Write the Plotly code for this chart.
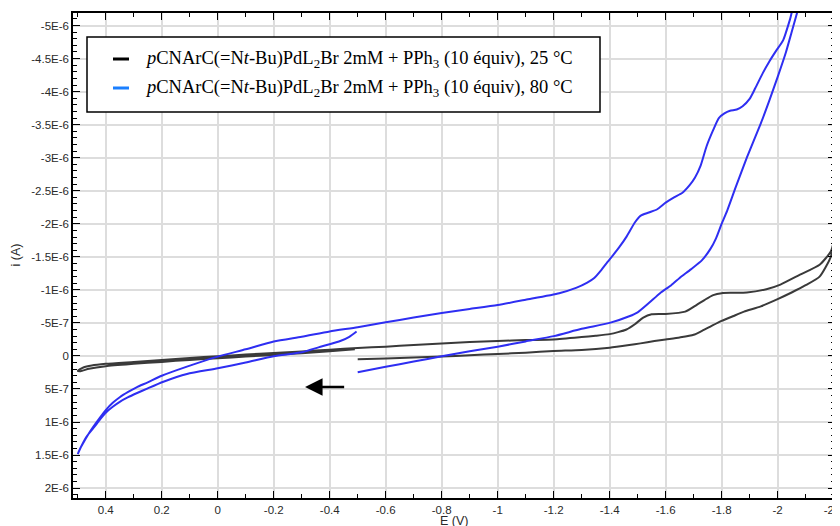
import plotly.graph_objects as go

# ---------------- data (E in V, i in µA) ----------------
# 25 °C curve (black): lower forward branch, upper return branch, low-potential band
E_25_fwd = [-0.5, -0.6, -0.7, -0.8, -0.9, -1.0, -1.1, -1.2, -1.3, -1.4, -1.47, -1.51, -1.56, -1.6,
            -1.65, -1.7, -1.73, -1.76, -1.8, -1.84, -1.88, -1.94, -2.0, -2.05, -2.1, -2.15, -2.19]
i_25_fwd = [0.05, 0.04, 0.025, 0.01, -0.01, -0.03, -0.05, -0.075, -0.09, -0.125, -0.165, -0.19, -0.225, -0.25,
            -0.28, -0.32, -0.38, -0.445, -0.53, -0.6, -0.67, -0.75, -0.86, -0.96, -1.07, -1.2, -1.5]
E_25_rev = [-2.2, -2.19, -2.15, -2.08, -2.01, -1.96, -1.89, -1.84, -1.8, -1.77, -1.74, -1.71, -1.67, -1.6,
            -1.55, -1.52, -1.49, -1.46, -1.43, -1.4, -1.35, -1.3, -1.2, -1.1, -1.0, -0.9, -0.8, -0.7, -0.6, -0.5]
i_25_rev = [-1.71, -1.58, -1.38, -1.23, -1.08, -1.01, -0.96, -0.955, -0.95, -0.92, -0.85, -0.77, -0.67, -0.635,
            -0.63, -0.58, -0.48, -0.4, -0.36, -0.33, -0.305, -0.285, -0.25, -0.24, -0.225, -0.21, -0.19, -0.165, -0.14, -0.12]
E_25_ox = [-0.4, -0.3, -0.2, -0.1, 0.0, 0.1, 0.2, 0.3, 0.4, 0.45, 0.48, 0.5,
           0.49, 0.46, 0.4, 0.3, 0.2, 0.1, 0.0, -0.1, -0.2, -0.3, -0.4, -0.49]
i_25_ox = [-0.095, -0.068, -0.045, -0.02, 0.005, 0.03, 0.06, 0.09, 0.12, 0.145, 0.175, 0.225,
           0.23, 0.195, 0.155, 0.12, 0.09, 0.06, 0.035, 0.01, -0.015, -0.04, -0.07, -0.1]

# 80 °C curve (blue)
E_80_fwd = [-0.5, -0.6, -0.7, -0.8, -0.9, -1.0, -1.1, -1.2, -1.3, -1.4, -1.47, -1.5, -1.54, -1.58, -1.62,
            -1.65, -1.69, -1.73, -1.76, -1.78, -1.8, -1.82, -1.85, -1.89, -1.94, -1.97, -2.0, -2.03, -2.05, -2.07, -2.08]
i_80_fwd = [0.247, 0.165, 0.085, 0.005, -0.07, -0.14, -0.22, -0.3, -0.41, -0.5, -0.6, -0.66, -0.8, -0.95, -1.07,
            -1.18, -1.31, -1.45, -1.62, -1.78, -2.0, -2.2, -2.55, -3.0, -3.52, -3.86, -4.22, -4.6, -4.9, -5.2, -5.35]
E_80_rev = [-2.06, -2.044, -2.02, -1.995, -1.971, -1.947, -1.92, -1.9, -1.875, -1.854, -1.83, -1.81, -1.79, -1.77,
            -1.746, -1.725, -1.705, -1.685, -1.66, -1.63, -1.6, -1.57, -1.54, -1.51, -1.49, -1.461, -1.435, -1.413,
            -1.39, -1.37, -1.345, -1.32, -1.28, -1.22, -1.1, -1.0, -0.9, -0.8, -0.7, -0.6, -0.5, -0.4, -0.3, -0.2,
            -0.1, 0.0, 0.11, 0.2, 0.25, 0.29, 0.32, 0.35, 0.375, 0.4, 0.42, 0.444, 0.46, 0.474, 0.49, 0.5]
i_80_rev = [-5.32, -5.09, -4.78, -4.62, -4.46, -4.28, -4.05, -3.89, -3.78, -3.73, -3.71, -3.67, -3.6, -3.42,
            -3.17, -2.88, -2.7, -2.58, -2.47, -2.4, -2.32, -2.22, -2.17, -2.12, -2.02, -1.81, -1.65, -1.53,
            -1.41, -1.3, -1.18, -1.11, -1.03, -0.95, -0.85, -0.77, -0.71, -0.65, -0.58, -0.51, -0.435, -0.37, -0.29, -0.217,
            -0.1, 0.01, 0.162, 0.3, 0.4, 0.475, 0.545, 0.625, 0.71, 0.82, 0.93, 1.07, 1.17, 1.27, 1.39, 1.485]
E_80_back = [0.49, 0.47, 0.444, 0.42, 0.4, 0.375, 0.35, 0.32, 0.29, 0.25, 0.194, 0.11, 0.0, -0.1, -0.2, -0.3,
             -0.36, -0.44, -0.47, -0.496]
i_80_back = [1.39, 1.23, 1.09, 0.96, 0.86, 0.77, 0.695, 0.625, 0.565, 0.49, 0.39, 0.273, 0.187, 0.1, 0.005, -0.055,
             -0.13, -0.23, -0.29, -0.37]

y_tickvals = [-5, -4.5, -4, -3.5, -3, -2.5, -2, -1.5, -1, -0.5, 0, 0.5, 1, 1.5, 2]
y_ticktext = ["-5E-6", "-4.5E-6", "-4E-6", "-3.5E-6", "-3E-6", "-2.5E-6", "-2E-6", "-1.5E-6",
              "-1E-6", "-5E-7", "0", "5E-7", "1E-6", "1.5E-6", "2E-6"]
x_tickvals = [0.4, 0.2, 0, -0.2, -0.4, -0.6, -0.8, -1, -1.2, -1.4, -1.6, -1.8, -2, -2.2]
x_ticktext = ["0.4", "0.2", "0", "-0.2", "-0.4", "-0.6", "-0.8", "-1", "-1.2", "-1.4", "-1.6", "-1.8", "-2", "-2.2"]

legend_labels = [
    "<i>p</i>CNArC(=N<i>t</i>-Bu)PdL<sub>2</sub>Br 2mM + PPh<sub>3</sub> (10 équiv), 25 °C",
    "<i>p</i>CNArC(=N<i>t</i>-Bu)PdL<sub>2</sub>Br 2mM + PPh<sub>3</sub> (10 équiv), 80 °C",
]

# ---------------- layout geometry (screen pixels; page body has an 8px margin) ----------------
W, H = 840, 526
OFF = 8
PL, PR, PT, PB = 73, 835, 13, 498          # plot area on screen
ML, MT = PL - OFF, PT - OFF
MR, MB = W - (PR - OFF), H - (PB - OFF)
PW, PH = PR - PL, PB - PT


def px(x):
    return (x - PL) / PW


def py(y):
    return (PB - y) / PH


BLACK = "#3a3a3a"
BLUE = "#2e2ef2"

fig = go.Figure()
fig.add_trace(go.Scatter(x=E_25_fwd + E_25_rev + E_25_ox, y=i_25_fwd + i_25_rev + i_25_ox,
                         mode="lines", line=dict(color=BLACK, width=2, shape="spline", smoothing=0.6),
                         showlegend=False))
fig.add_trace(go.Scatter(x=E_80_fwd + E_80_rev + E_80_back, y=i_80_fwd + i_80_rev + i_80_back,
                         mode="lines", line=dict(color=BLUE, width=2, shape="spline", smoothing=0.6),
                         showlegend=False))

axis_common = dict(showline=True, linecolor="black", linewidth=1.5, mirror="allticks",
                   ticks="inside", ticklen=7, tickcolor="black", tickwidth=1.2, automargin=False,
                   showgrid=True, gridcolor="#dddddd", gridwidth=1.5, zeroline=False,
                   tickfont=dict(family="Liberation Sans, Arial", size=11.5, color="#2a2a2a"))

fig.update_xaxes(range=[0.517, -2.205], tickmode="array", tickvals=x_tickvals, ticktext=x_ticktext,
                 minor=dict(ticks="inside", ticklen=4, tick0=0, dtick=0.1, tickcolor="black", showgrid=False),
                 **axis_common)
fig.update_yaxes(range=[2.15, -5.19], tickmode="array", tickvals=y_tickvals, ticktext=y_ticktext,
                 minor=dict(ticks="inside", ticklen=4, tick0=0, dtick=0.1, tickcolor="black", showgrid=False),
                 **axis_common)

shapes = [
    dict(type="rect", xref="paper", yref="paper", x0=px(87), x1=px(600), y0=py(112), y1=py(37),
         line=dict(color="black", width=1.5), fillcolor="white", layer="above"),
    dict(type="line", xref="paper", yref="paper", x0=px(113), x1=px(129), y0=py(59), y1=py(59),
         line=dict(color="black", width=3), layer="above"),
    dict(type="line", xref="paper", yref="paper", x0=px(113), x1=px(129), y0=py(88), y1=py(88),
         line=dict(color="#1a7fff", width=3), layer="above"),
]

serif = dict(family="Liberation Serif, Times New Roman", size=18.5, color="black")
annotations = [
    dict(xref="paper", yref="paper", x=px(143), y=py(59), xanchor="left", yanchor="middle",
         text=legend_labels[0], showarrow=False, font=serif),
    dict(xref="paper", yref="paper", x=px(143), y=py(88), xanchor="left", yanchor="middle",
         text=legend_labels[1], showarrow=False, font=serif),
    dict(xref="paper", yref="paper", x=0.5, y=py(521), xanchor="center", yanchor="middle",
         text="E (V)", showarrow=False, font=dict(family="Liberation Sans, Arial", size=12.5, color="#2a2a2a")),
    dict(xref="paper", yref="paper", x=px(15), y=0.5, xanchor="center", yanchor="middle", textangle=-90,
         text="i (A)", showarrow=False, font=dict(family="Liberation Sans, Arial", size=12.5, color="#2a2a2a")),
]

# scan-direction arrow (data coordinates)
arrow_tip = (-0.312, 0.47)
arrow_tail = (-0.457, 0.47)
annotations.append(dict(x=arrow_tip[0], y=arrow_tip[1], ax=arrow_tail[0], ay=arrow_tail[1],
                        xref="x", yref="y", axref="x", ayref="y", text="", showarrow=True,
                        arrowhead=2, arrowsize=1.4, arrowwidth=2.5, arrowcolor="black"))

fig.update_layout(width=W, height=H, margin=dict(l=ML, r=MR, t=MT, b=MB),
                  paper_bgcolor="white", plot_bgcolor="white",
                  shapes=shapes, annotations=annotations, showlegend=False)

fig.write_html("out.html")
